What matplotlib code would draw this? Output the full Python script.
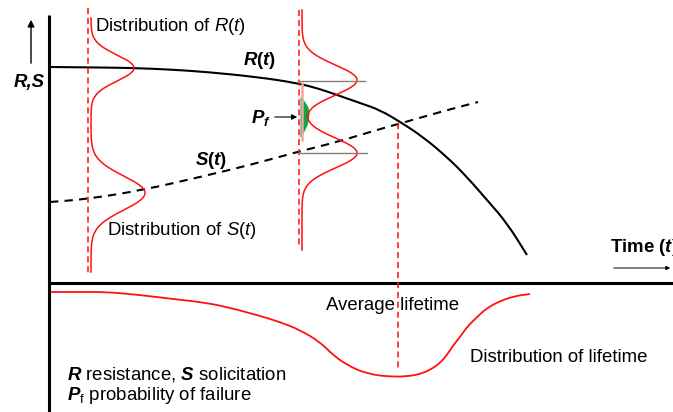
import numpy as np
import matplotlib
matplotlib.use("Agg")
import matplotlib.pyplot as plt
from matplotlib.path import Path
from matplotlib.patches import PathPatch

plt.rcParams['font.family'] = ['Liberation Sans', 'DejaVu Sans']
plt.rcParams['mathtext.fontset'] = 'custom'
plt.rcParams['mathtext.rm'] = 'Liberation Sans'
plt.rcParams['mathtext.it'] = 'Liberation Sans:italic'
plt.rcParams['mathtext.bf'] = 'Liberation Sans:bold'
plt.rcParams['mathtext.bfit'] = 'Liberation Sans:bold:italic'

# schematic drawn in picture units (x to the right, y downwards)
# resistance curve R(t)
r_x = [50, 100, 133, 170, 207, 257, 297, 320, 340, 360, 380, 402, 423, 447,
       467, 487, 507, 527]
r_y = [67, 67.5, 68, 69.5, 72, 77, 83, 89, 96, 103, 110, 123, 137, 157,
       177, 200, 223, 255]
# solicitation curve S(t)
s_x = [50, 88, 143, 200, 250, 297, 337, 380, 402, 440, 478]
s_y = [202, 199, 190, 177, 165, 152, 142, 129, 123, 112, 102]
# lifetime distribution (below the time axis)
life_x = [50, 80, 107, 140, 173, 200, 223, 257, 280, 300, 320, 333, 347,
          367, 393, 410, 420, 430, 440, 447, 452, 460, 467, 477, 487, 500,
          515, 530]
life_y = [292, 292, 292, 295, 299, 302, 306, 315, 322, 330, 342, 355, 365,
          374, 377, 376, 374, 370, 363, 355, 347, 337, 327, 317, 308, 301,
          296, 294]

# distributions of R and S at two times: base x, (centre, height, spread) for R and S
dist_base = [91, 302]
dist_r = [(68, 43, 13), (80, 55, 15)]
dist_s = [(193, 54, 17), (153, 55, 15)]
dist_span = [(18, 272), (10, 250)]

# failure probability lens at the second time
pf_y = [97, 102, 107, 113, 119, 125, 131, 137]
pf_x = [301, 305, 308, 309, 308.5, 307, 304, 301]


def smooth_line(ax, xs, ys, **kw):
    # quadratic bezier through midpoints, so the read points give a smooth stroke
    pts = list(zip(xs, ys))
    verts = [pts[0]]
    codes = [Path.MOVETO]
    mid = lambda a, b: ((a[0] + b[0]) / 2, (a[1] + b[1]) / 2)
    verts.append(mid(pts[0], pts[1]))
    codes.append(Path.LINETO)
    for i in range(1, len(pts) - 1):
        verts += [pts[i], mid(pts[i], pts[i + 1])]
        codes += [Path.CURVE3, Path.CURVE3]
    verts.append(pts[-1])
    codes.append(Path.LINETO)
    ax.add_patch(PathPatch(Path(verts, codes), fill=False, **kw))


fig = plt.figure(figsize=(6.73, 4.12), dpi=100)
ax = fig.add_axes([0, 0, 1, 1])
ax.set_xlim(0, 673)
ax.set_ylim(412, 0)
ax.axis('off')

red = '#ff1010'

# axes of the scheme
ax.plot([49, 49], [15, 412], color='black', lw=2.2, solid_capstyle='butt')
ax.plot([49, 673], [283, 283], color='black', lw=2.2, solid_capstyle='butt')
ax.annotate('', xy=(31, 17), xytext=(31, 66),
            arrowprops=dict(arrowstyle='-|>', color='black', lw=1, mutation_scale=10))
ax.annotate('', xy=(673, 268), xytext=(611, 268),
            arrowprops=dict(arrowstyle='-|>', color='black', lw=0.7, mutation_scale=6))

# red dashed verticals
dash = (0, (4, 2.5))
ax.plot([88, 88], [8, 273], color=red, lw=1.1, linestyle=dash)
ax.plot([299, 299], [10, 248], color=red, lw=1.1, linestyle=dash)
ax.plot([398, 398], [123, 370], color=red, lw=1.1, linestyle=dash)

# bell curves
for base, rr, ss, span in zip(dist_base, dist_r, dist_s, dist_span):
    yy = np.linspace(span[0], span[1], 300)
    xx = (base + rr[1] * np.exp(-(yy - rr[0]) ** 2 / (2 * rr[2] ** 2))
          + ss[1] * np.exp(-(yy - ss[0]) ** 2 / (2 * ss[2] ** 2)))
    ax.plot(xx, yy, color=red, lw=1.1)

# level lines to the bells
ax.plot([298, 365], [81, 81], color='#808080', lw=1)
ax.plot([298, 367], [153, 153], color='#808080', lw=1)

# pf overlap area
ax.plot([301.5, 301.5], [83, 140], color='#f5a3a3', lw=1.8)
ax.fill_betweenx(pf_y, 300, pf_x, color='#12a54a', lw=0)

# R and S curves
smooth_line(ax, r_x, r_y, edgecolor='black', lw=1.5)
smooth_line(ax, s_x, s_y, edgecolor='black', lw=1.5, linestyle=(0, (4, 3)))

# lifetime distribution
smooth_line(ax, life_x, life_y, edgecolor=red, lw=1.3)

ax.annotate('', xy=(300, 117), xytext=(272, 117),
            arrowprops=dict(arrowstyle='-|>', color='black', lw=0.8, mutation_scale=8))

fs = 13.4
ax.text(95, 26, r'Distribution of $R$($t$)', fontsize=fs, va='center')
ax.text(107, 230, r'Distribution of $S$($t$)', fontsize=fs, va='center')
ax.text(243, 60, r'$\mathbfit{R}$($\mathbfit{t}$)', fontsize=fs, fontweight='bold', va='center')
ax.text(195, 160, r'$\mathbfit{S}$($\mathbfit{t}$)', fontsize=fs, fontweight='bold', va='center')
ax.text(14, 82, 'R,S', fontsize=fs, fontweight='bold', fontstyle='italic', va='center')
ax.text(251, 118, r'$\mathbfit{P}_{\mathbfit{f}}$', fontsize=fs, va='center')
ax.text(610, 248, r'Time ($\mathbfit{t}$)', fontsize=fs, fontweight='bold', va='center')
ax.text(326, 305, 'Average lifetime', fontsize=fs, va='center')
ax.text(470, 357, 'Distribution of lifetime', fontsize=fs, va='center')
ax.text(67, 375, r'$\mathbfit{R}$ resistance, $\mathbfit{S}$ solicitation', fontsize=fs, va='center')
ax.text(67, 395, r'$\mathbfit{P}_{\mathrm{f}}$ probability of failure', fontsize=fs, va='center')

fig.savefig('out.png', dpi=100)
